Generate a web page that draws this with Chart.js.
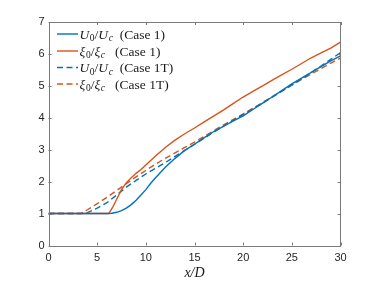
<!DOCTYPE html>
<html><head><meta charset="utf-8">
<script src="https://cdn.jsdelivr.net/npm/chart.js@4"></script>
<style>html,body{margin:0;padding:0;background:#fff}canvas{display:block}</style>
</head><body>
<canvas id="c" width="376" height="282"></canvas>
<script>
// ---- data ----
const xTicks = [0, 5, 10, 15, 20, 25, 30];
const yTicks = [0, 1, 2, 3, 4, 5, 6, 7];

const xU0Case1 = [0,2,4,6,6.5,7,7.5,8,8.5,9,9.5,10,10.5,11,12,13,14,15,16,17,18,19,20,21,22,23,24,25,26,27,28,29,30];
const yU0Case1 = [1,1,1,1,1.01,1.04,1.09,1.17,1.28,1.42,1.58,1.75,1.95,2.12,2.45,2.73,2.98,3.17,3.38,3.57,3.74,3.9,4.06,4.26,4.46,4.66,4.86,5.06,5.24,5.42,5.6,5.78,5.94];

const xXiCase1 = [0,2,4,6,6.2,6.6,7,7.5,8,8.5,9,9.5,10,11,12,13,14,15,16,17,18,19,20,21,22,23,24,25,26,27,28,29,30];
const yXiCase1 = [1,1,1,1,1.0,1.2,1.45,1.75,1.97,2.12,2.26,2.38,2.52,2.8,3.07,3.3,3.5,3.68,3.87,4.06,4.25,4.45,4.65,4.83,5.0,5.18,5.35,5.52,5.7,5.88,6.03,6.18,6.37];

const xU0Case1T = [0,2,3.8,5,6,7,8,9,10,11,12,13,14,15,16,17,18,19,20,21,22,23,24,25,26,27,28,29,30];
const yU0Case1T = [1,1,1,1.17,1.34,1.58,1.83,2.04,2.24,2.42,2.6,2.79,2.98,3.17,3.36,3.56,3.74,3.92,4.1,4.28,4.46,4.65,4.84,5.03,5.22,5.42,5.62,5.83,6.04];

const xXiCase1T = [0,2,3.3,4,5,6,7,8,9,10,11,12,13,14,15,16,17,18,19,20,21,22,23,24,25,26,27,28,29,30];
const yXiCase1T = [1,1,1,1.12,1.31,1.51,1.72,1.94,2.15,2.35,2.55,2.73,2.9,3.07,3.24,3.42,3.6,3.78,3.95,4.12,4.3,4.48,4.66,4.84,5.02,5.2,5.37,5.54,5.71,5.87];

const BLUE = '#0072BD', ORANGE = '#D95319';
const pts = (xs, ys) => xs.map((x, i) => ({x, y: ys[i]}));

// legend rich-text pieces: [text, style, sub]
const legendItems = [
  {color: BLUE, dash: [], parts: [['U','i',0],['0','n',1],['/','n',0],['U','i',0],['c','i',1],['  (Case 1)','n',0]]},
  {color: ORANGE, dash: [], parts: [['ξ','i',0],['0','n',1],['/','n',0],['ξ','i',0],['c','i',1],['   (Case 1)','n',0]]},
  {color: BLUE, dash: [6,3.5], parts: [['U','i',0],['0','n',1],['/','n',0],['U','i',0],['c','i',1],['  (Case 1T)','n',0]]},
  {color: ORANGE, dash: [6,3.5], parts: [['ξ','i',0],['0','n',1],['/','n',0],['ξ','i',0],['c','i',1],['   (Case 1T)','n',0]]},
];

const SERIF = '"Liberation Serif","DejaVu Serif",serif';

const frame = {
  id: 'frame',
  afterDatasetsDraw(chart) {
    const {ctx, chartArea: a, scales} = chart;
    ctx.save();
    ctx.strokeStyle = '#7a7a7a';
    ctx.lineWidth = 1;
    ctx.strokeRect(Math.round(a.left) + 0.5, Math.round(a.top) + 0.5,
      Math.round(a.right - a.left) - 1, Math.round(a.bottom - a.top));
    ctx.beginPath();
    const L = 3;
    xTicks.forEach(v => {
      const px = Math.round(scales.x.getPixelForValue(v)) + 0.5;
      ctx.moveTo(px, a.bottom); ctx.lineTo(px, a.bottom - L);
      ctx.moveTo(px, a.top); ctx.lineTo(px, a.top + L);
    });
    yTicks.forEach(v => {
      const py = Math.round(scales.y.getPixelForValue(v)) + 0.5;
      ctx.moveTo(a.left, py); ctx.lineTo(a.left + L, py);
      ctx.moveTo(a.right, py); ctx.lineTo(a.right - L, py);
    });
    ctx.stroke();

    // legend
    const rowY = [34, 51, 67.5, 84];
    legendItems.forEach((it, i) => {
      const y = rowY[i];
      ctx.strokeStyle = it.color;
      ctx.lineWidth = 1.4;
      ctx.setLineDash(it.dash);
      ctx.beginPath(); ctx.moveTo(57, y); ctx.lineTo(78, y); ctx.stroke();
      ctx.setLineDash([]);
      let x = 79.5;
      ctx.fillStyle = '#1a1a1a';
      ctx.textBaseline = 'alphabetic';
      ctx.textAlign = 'left';
      it.parts.forEach(([t, st, sub]) => {
        const size = sub ? 9.5 : 13.5;
        ctx.font = (st === 'i' ? 'italic ' : '') + size + 'px ' + SERIF;
        ctx.fillText(t, x, y + 4.5 + (sub ? 2.5 : 0));
        x += ctx.measureText(t).width + (st === 'i' && !sub ? 0.6 : 0);
      });
    });
    ctx.restore();
  }
};

new Chart(document.getElementById('c'), {
  type: 'line',
  data: {
    datasets: [
      {data: pts(xU0Case1, yU0Case1), borderColor: BLUE, borderWidth: 1.4},
      {data: pts(xXiCase1, yXiCase1), borderColor: ORANGE, borderWidth: 1.4},
      {data: pts(xU0Case1T, yU0Case1T), borderColor: BLUE, borderWidth: 1.4, borderDash: [6,3.5]},
      {data: pts(xXiCase1T, yXiCase1T), borderColor: ORANGE, borderWidth: 1.4, borderDash: [6,3.5]},
    ]
  },
  options: {
    responsive: false,
    animation: false,
    devicePixelRatio: 1,
    layout: {padding: {top: 22, right: 35.5, left: 0, bottom: 0}},
    elements: {point: {radius: 0}, line: {tension: 0, fill: false}},
    plugins: {legend: {display: false}, tooltip: {enabled: false}},
    scales: {
      x: {
        type: 'linear', min: 0, max: 30,
        afterBuildTicks: s => { s.ticks = xTicks.map(v => ({value: v})); },
        afterFit: s => { s.height = 36.5; },
        grid: {display: false, drawTicks: false},
        border: {display: false},
        ticks: {color: '#262626', font: {family: '"Liberation Sans",Arial,sans-serif', size: 11}, padding: 6, maxRotation: 0},
        title: {display: true, text: 'x/D', color: '#1a1a1a', font: {family: SERIF, size: 14, style: 'italic'}, padding: {top: 0, bottom: 0}}
      },
      y: {
        type: 'linear', min: 0, max: 7,
        afterBuildTicks: s => { s.ticks = yTicks.map(v => ({value: v})); },
        afterFit: s => { s.width = 48.5; },
        grid: {display: false, drawTicks: false},
        border: {display: false},
        ticks: {color: '#262626', font: {family: '"Liberation Sans",Arial,sans-serif', size: 11}, padding: 4}
      }
    }
  },
  plugins: [frame]
});
</script>
</body></html>
